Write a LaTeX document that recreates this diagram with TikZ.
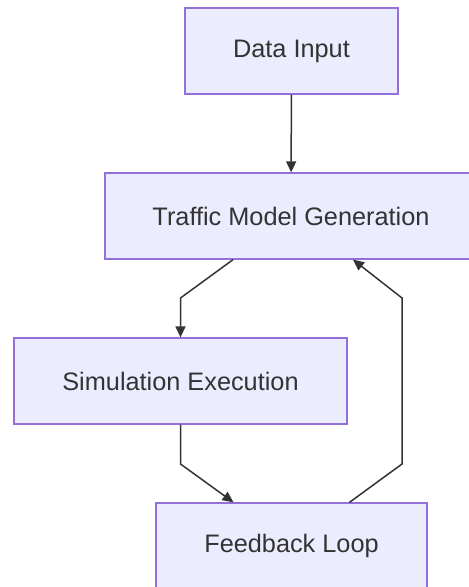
\documentclass[tikz,border=0pt]{standalone}
\usepackage{fontspec}
\setmainfont{Liberation Sans}
\usetikzlibrary{arrows.meta}
\definecolor{boxfill}{HTML}{ECECFF}
\definecolor{boxline}{HTML}{9370DB}
\definecolor{ink}{HTML}{333333}
\tikzset{
  box/.style={draw=boxline, fill=boxfill, line width=1.3pt, text=ink, font=\fontsize{25.3}{30}\selectfont, minimum height=86pt, inner sep=0pt, anchor=center},
  arr/.style={draw=ink, line width=1.5pt, -{Triangle[length=11pt,width=10pt]}}
}
\begin{document}
\begin{tikzpicture}[x=1pt,y=-1pt]
\useasboundingbox (0,0) rectangle (469,587);
\node[box, minimum width=213pt] (data) at (291.5,51) {Data Input};
\node[box, minimum width=372pt] (traffic) at (291,216) {Traffic Model Generation};
\node[box, minimum width=333pt] (sim) at (180.5,381) {Simulation Execution};
\node[box, minimum width=271pt] (fb) at (291.5,546) {Feedback Loop};
\coordinate (b1) at (180.5,298);
\coordinate (c1) at (180.5,464);
\coordinate (d1) at (402,464);
\coordinate (d2) at (402,298);
\draw[arr] (data) -- (traffic);
\draw[arr] ([xshift=-58pt]traffic.south) -- (b1) -- (sim.north);
\draw[arr] (sim.south) -- (c1) -- ([xshift=-58pt]fb.north);
\draw[arr] ([xshift=58pt]fb.north) -- (d1) -- (d2) -- ([xshift=62pt]traffic.south);
\end{tikzpicture}
\end{document}
